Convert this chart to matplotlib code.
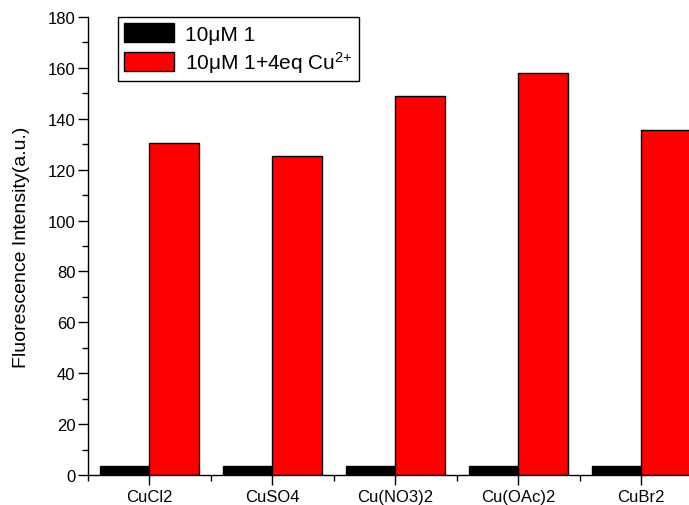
import matplotlib
matplotlib.use("Agg")
import matplotlib.pyplot as plt
import numpy as np
from matplotlib.ticker import MultipleLocator, FixedLocator

categories = ["CuCl2", "CuSO4", "Cu(NO3)2", "Cu(OAc)2", "CuBr2"]
probe_only = [3.5, 3.5, 3.5, 3.5, 3.5]
probe_cu = [130.5, 125.3, 149.0, 158.0, 135.5]
series_labels = ["10\u03bcM 1", "10\u03bcM 1+4eq Cu$^{2{+}}$"]

plt.rcParams['font.family'] = ['Liberation Sans', 'DejaVu Sans']
plt.rcParams['mathtext.fontset'] = 'custom'
plt.rcParams['mathtext.rm'] = 'Liberation Sans'
plt.rcParams['mathtext.it'] = 'Liberation Sans'
plt.rcParams['mathtext.bf'] = 'Liberation Sans'

fig = plt.figure(figsize=(6.89, 5.06), dpi=100)
axw = 1.02 - 88/689
ax = fig.add_axes([88/689, 30/506, axw, 458/506])

x = np.arange(1, len(categories) + 1)
w = 0.4
ax.bar(x - w/2, probe_only, width=w, color='black', edgecolor='black', linewidth=1, label=series_labels[0])
ax.bar(x + w/2, probe_cu, width=w, color='#ff0000', edgecolor='black', linewidth=1, label=series_labels[1])

ax.set_xlim(0.5, 5.5)
ax.set_ylim(0, 180)
ax.yaxis.set_major_locator(MultipleLocator(20))
ax.yaxis.set_minor_locator(MultipleLocator(10))
ax.set_xticks(x)
ax.set_xticklabels(categories, fontsize=12)
ax.xaxis.set_minor_locator(FixedLocator(np.arange(0.5, 6.0, 1.0)))
ax.tick_params(axis='y', which='major', direction='out', length=7, width=1, labelsize=12, pad=2)
ax.tick_params(axis='y', which='minor', direction='out', length=4, width=1)
ax.tick_params(axis='x', which='major', direction='out', length=7, width=1, labelsize=12, pad=3)
ax.tick_params(axis='x', which='minor', direction='out', length=4, width=1)

ax.spines['top'].set_visible(False)
ax.spines['right'].set_visible(False)
ax.spines['left'].set_linewidth(1)
ax.spines['bottom'].set_linewidth(1)

ax.set_ylabel("Fluorescence Intensity(a.u.)", fontsize=14, labelpad=13)

axw_px = axw * 689
leg = ax.legend(loc='upper left', bbox_to_anchor=(30/axw_px, 1.0), borderaxespad=0,
                fontsize=15, frameon=True,
                fancybox=False, edgecolor='black', framealpha=1, borderpad=0.3,
                handlelength=2.4, handleheight=1.0, handletextpad=0.5, labelspacing=0.25)
leg.get_frame().set_linewidth(1)

fig.savefig("out.png", dpi=100)
